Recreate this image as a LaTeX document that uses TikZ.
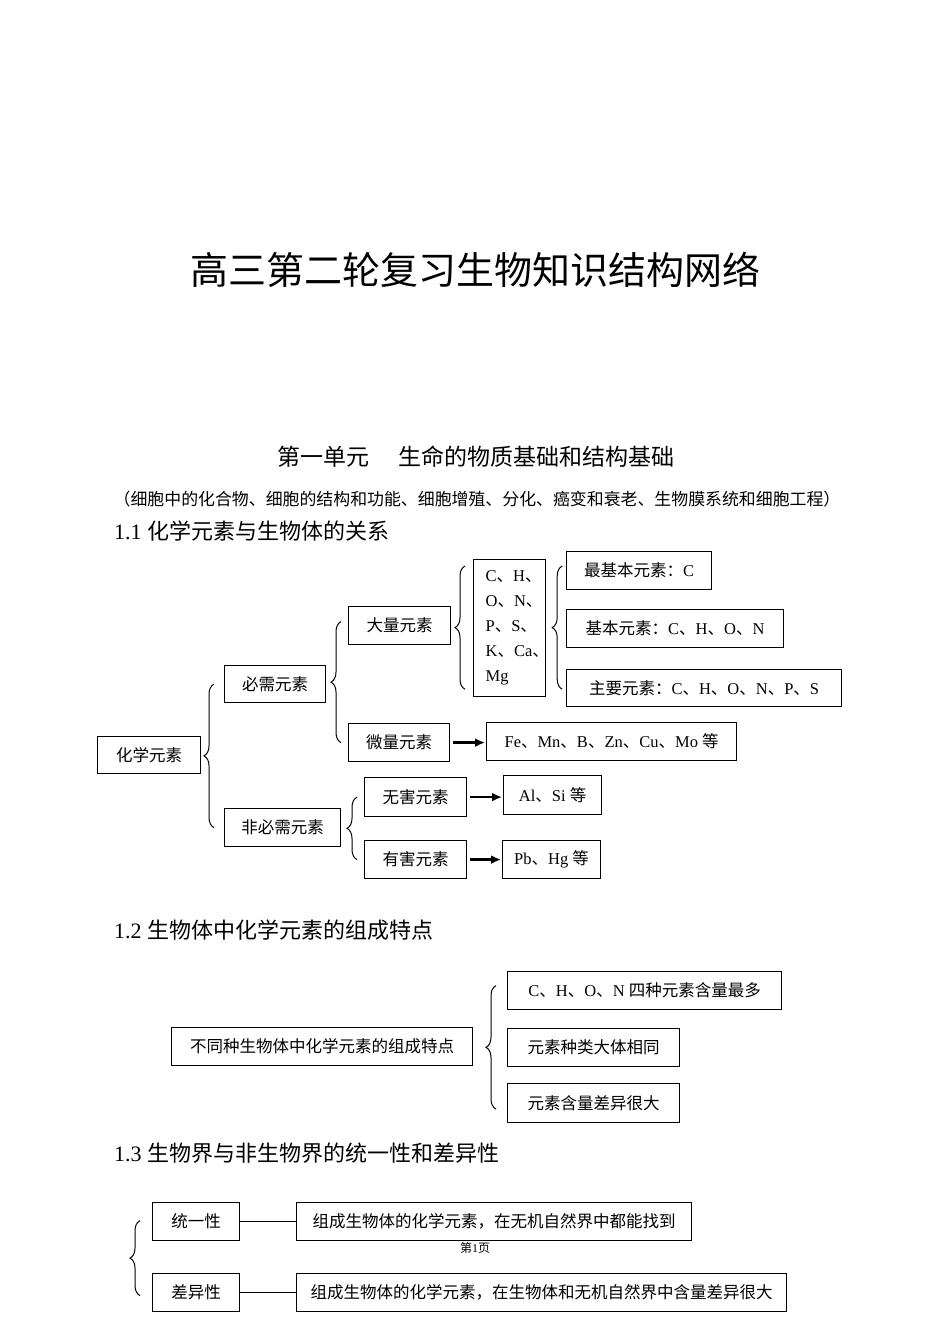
\documentclass[tikz,border=0pt]{standalone}
\usepackage{fontspec}
\setmainfont{Liberation Serif}
\newfontfamily\cjkfont{Noto Sans CJK SC}
\usetikzlibrary{arrows.meta,decorations.pathreplacing,calc}
\XeTeXinterchartokenstate=1
\newXeTeXintercharclass\CJKcls
\makeatletter
\count@="3000
\loop \XeTeXcharclass\count@=\CJKcls \ifnum\count@<"9FFF \advance\count@ 1 \repeat
\count@="FF00
\loop \XeTeXcharclass\count@=\CJKcls \ifnum\count@<"FFEF \advance\count@ 1 \repeat
\makeatother
\XeTeXinterchartoks 0 \CJKcls = {\cjkfont}
\XeTeXinterchartoks 4095 \CJKcls = {\cjkfont}
\XeTeXinterchartoks \CJKcls 0 = {\rmfamily}
\XeTeXinterchartoks 4095 0 = {\rmfamily}
\begin{document}
\begin{tikzpicture}[x=1pt,y=-1pt,
  box/.style={draw, line width=1.2pt, inner sep=0pt, anchor=north west, font=\fontsize{16.5}{20}\selectfont},
  arr/.style={-{Latex[length=10pt,width=9pt]}, line width=2.5pt, shorten <=3pt, shorten >=1pt},
  brc/.style={decorate, decoration={brace, amplitude=10pt}, line width=1pt},
  txt/.style={inner sep=0pt}]
\useasboundingbox[fill=white] (0,0) rectangle (950,1344);
% headings
\node[txt, font=\fontsize{38}{40}\selectfont] (title) at (475,270) {高三第二轮复习生物知识结构网络};
\node[txt, font=\fontsize{23}{26}\selectfont] (unit) at (476,457) {第一单元\hspace{30pt}生命的物质基础和结构基础};
\node[txt, font=\fontsize{16.9}{20}\selectfont] (sub) at (477,499) {（细胞中的化合物、细胞的结构和功能、细胞增殖、分化、癌变和衰老、生物膜系统和细胞工程）};
\node[txt, anchor=west, font=\fontsize{22}{26}\selectfont] (h1) at (114,531) {1.1 化学元素与生物体的关系};
\node[txt, anchor=west, font=\fontsize{22}{26}\selectfont] (h2) at (114,930) {1.2 生物体中化学元素的组成特点};
\node[txt, anchor=west, font=\fontsize{22}{26}\selectfont] (h3) at (114,1153) {1.3 生物界与非生物界的统一性和差异性};
\node[txt, font=\fontsize{12}{14}\selectfont] (pg) at (475,1248) {第1页};
% 1.1
\node[box, minimum width=103pt, minimum height=37pt] (hx) at (97,736) {化学元素};
\node[box, minimum width=101pt, minimum height=37pt] (bx) at (224,665) {必需元素};
\node[box, minimum width=116pt, minimum height=38pt] (fbx) at (224,808) {非必需元素};
\node[box, minimum width=102pt, minimum height=38pt] (dl) at (348,606) {大量元素};
\node[box, minimum width=101pt, minimum height=38pt] (wl) at (348,723) {微量元素};
\node[box, minimum width=102pt, minimum height=39pt] (wh) at (364,777) {无害元素};
\node[box, minimum width=102pt, minimum height=38pt] (yh) at (364,840) {有害元素};
\node[box, minimum width=72pt, minimum height=137pt, text width=48pt, align=left, font=\fontsize{16.5}{25}\selectfont] (chon) at (473,559) {C、H、\\\rmfamily O、N、\\\rmfamily P、S、\\\rmfamily K、Ca、\\\rmfamily Mg};
\node[box, minimum width=145pt, minimum height=38pt] (zjb) at (566,551) {最基本元素：C};
\node[box, minimum width=217pt, minimum height=38pt] (jb) at (566,609) {基本元素：C、H、O、N};
\node[box, minimum width=275pt, minimum height=37pt] (zy) at (566,669) {主要元素：C、H、O、N、P、S};
\node[box, minimum width=250pt, minimum height=38pt] (fe) at (486,722) {Fe、Mn、B、Zn、Cu、Mo 等};
\node[box, minimum width=98pt, minimum height=39pt] (al) at (503,775) {Al、Si 等};
\node[box, minimum width=98pt, minimum height=38pt] (pb) at (502,840) {Pb、Hg 等};
\draw[brc] ($(fbx.west)+(-10,0)$) -- ($(bx.west)+(-10,0)$);
\draw[brc] ($(wl.west)+(-7,0)$) -- ($(dl.west)+(-7,-4)$);
\draw[brc] ($(yh.west)+(-7,0)$) -- ($(wh.west)+(-7,0)$);
\draw[brc] ($(chon.south west)+(-8,-8)$) -- ($(chon.north west)+(-8,7)$);
\draw[brc] ($(chon.south east)+(16,-8)$) -- ($(chon.north east)+(16,7)$);
\draw[arr] (wl.east) -- (wl.east -| fe.west);
\draw[arr] (wh.east) -- (wh.east -| al.west);
\draw[arr] (yh.east) -- (yh.east -| pb.west);
% 1.2
\node[box, minimum width=301pt, minimum height=38pt] (bt) at (171,1027) {不同种生物体中化学元素的组成特点};
\node[box, minimum width=274pt, minimum height=38pt] (c1) at (507,971) {C、H、O、N 四种元素含量最多};
\node[box, minimum width=172pt, minimum height=38pt] (c2) at (507,1028) {元素种类大体相同};
\node[box, minimum width=172pt, minimum height=39pt] (c3) at (507,1083) {元素含量差异很大};
\draw[brc] ($(c3.west)+(-11,6)$) -- ($(c1.west)+(-11,-5)$);
% 1.3
\node[box, minimum width=87pt, minimum height=38pt] (ty) at (152,1202) {统一性};
\node[box, minimum width=395pt, minimum height=38pt] (tyd) at (296,1202) {组成生物体的化学元素，在无机自然界中都能找到};
\node[box, minimum width=87pt, minimum height=38pt] (cy) at (152,1273) {差异性};
\node[box, minimum width=490pt, minimum height=38pt] (cyd) at (296,1273) {组成生物体的化学元素，在生物体和无机自然界中含量差异很大};
\draw[line width=1pt] (ty.east) -- (tyd.west);
\draw[line width=1pt] (cy.east) -- (cyd.west);
\draw[brc] ($(cy.west)+(-12,3)$) -- ($(ty.west)+(-12,-1)$);
\end{tikzpicture}
\end{document}
